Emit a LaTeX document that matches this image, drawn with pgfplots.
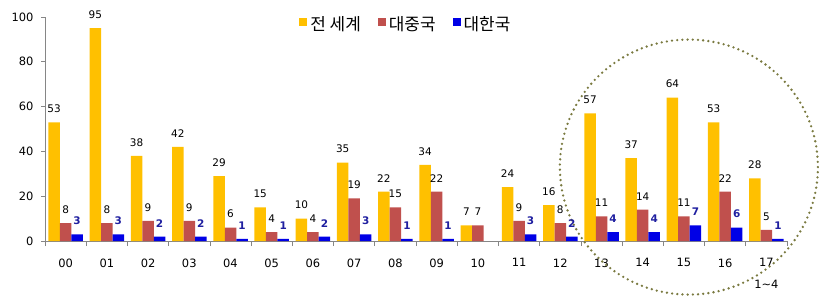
\documentclass[border=0pt]{standalone}
\usepackage{fontspec}
\setmainfont{DejaVu Sans}
\newfontfamily\kr{Noto Sans CJK KR}
\usepackage{pgfplots}
\pgfplotsset{compat=1.18}
\definecolor{ycol}{HTML}{FFC000}
\definecolor{rcol}{HTML}{C0504D}
\definecolor{bcol}{HTML}{0000E6}
\definecolor{blab}{HTML}{1F1FA0}
\definecolor{olv}{HTML}{7A7A40}
\definecolor{axg}{HTML}{868686}
\begin{document}
\begin{tikzpicture}
\path[use as bounding box] (-45bp,-60bp) rectangle (774bp,241bp);
\begin{axis}[
  at={(0,0)}, anchor=south west,
  scale only axis, width=742bp, height=224bp,
  xmin=-0.5, xmax=17.5, ymin=0, ymax=100,
  axis x line*=bottom, axis y line*=left,
  axis line style={axg, line width=0.6bp},
  clip=false,
  ybar=0pt, bar width=11.5bp,
  xtick={0,...,17},
  xticklabels={00,01,02,03,04,05,06,07,08,09,10,11,12,13,14,15,16,{17\\1\textasciitilde 4}},
  major x tick style={draw=none},
  minor xtick={-0.5,0.5,...,17.5},
  minor x tick style={axg, line width=0.6bp},
  minor tick length=5bp,
  ytick={0,20,...,100},
  major tick length=4bp,
  y tick style={axg, line width=0.6bp},
  tick align=outside,
  /pgf/number format/assume math mode=true,
  tick label style={font=\fontsize{11.5}{15}\selectfont},
  xticklabel style={align=center, yshift=-10bp, font=\fontsize{11.5}{22}\selectfont},
  yticklabel style={xshift=-4bp},
  nodes near coords,
  nodes near coords style={font=\fontsize{10.5}{12}\selectfont, anchor=south, yshift=6bp, text=black},
  legend style={at={(0.487,0.968)}, anchor=center, draw=none, fill=none,
    legend columns=-1, font=\kr\fontsize{17}{19}\selectfont,
    nodes={inner xsep=3bp},
    /tikz/every even column/.append style={column sep=14bp},
    legend cell align=left},
  legend image code/.code={\path[#1,draw=none] (0bp,-2bp) rectangle (8bp,6.5bp);},
]
\addplot[fill=ycol, draw=none] coordinates {(0,53)(1,95)(2,38)(3,42)(4,29)(5,15)(6,10)(7,35)(8,22)(9,34)(10,7)(11,24)(12,16)(13,57)(14,37)(15,64)(16,53)(17,28)};
\addplot[fill=rcol, draw=none] coordinates {(0,8)(1,8)(2,9)(3,9)(4,6)(5,4)(6,4)(7,19)(8,15)(9,22)(10,7)(11,9)(12,8)(13,11)(14,14)(15,11)(16,22)(17,5)};
\addplot[fill=bcol, draw=none, nodes near coords style={text=blab, font=\bfseries\fontsize{10.5}{12}\selectfont}] coordinates {(0,3)(1,3)(2,2)(3,2)(4,1)(5,1)(6,2)(7,3)(8,1)(9,1)(11,3)(12,2)(13,4)(14,4)(15,7)(16,6)(17,1)};
\legend{전 세계, 대중국, 대한국}
\draw[olv, line width=2.6bp, line cap=round, dash pattern=on 0bp off 5.2bp] (axis cs:15.12,33) ellipse [x radius=129bp, y radius=127.5bp];
\end{axis}
\end{tikzpicture}
\end{document}
